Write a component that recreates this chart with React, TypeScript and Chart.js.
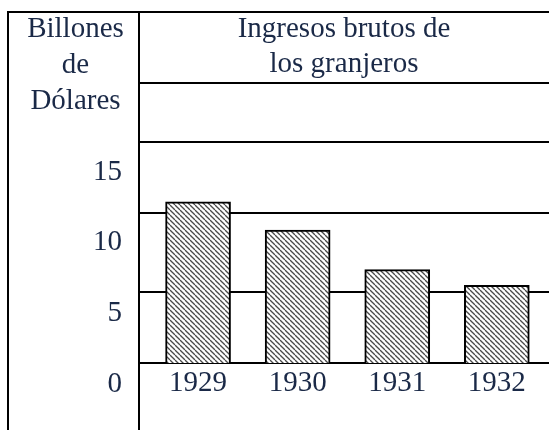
import { useEffect, useRef } from 'react';
import { Chart, registerables } from 'chart.js';

Chart.register(...registerables);

// ---- data ----
const years = ['1929', '1930', '1931', '1932'];
const income = [11.4, 9.4, 6.6, 5.5]; // billones de dólares
const tickValues = [0, 5, 10, 15];
const headerLeft = ['Billones', 'de', 'Dólares'];
const headerRight = ['Ingresos brutos de', 'los granjeros'];
// table row rules, in units of the income scale
const rowRules = [5, 10.6, 15.65, 19.8];

const INK = '#1a2947';
const FONT_FAMILY = '"Liberation Serif", "Times New Roman", serif';
const FONT_SIZE = 29;

function makeHatch(): CanvasPattern {
  const s = 5;
  const c = document.createElement('canvas');
  c.width = s;
  c.height = s;
  const g = c.getContext('2d')!;
  g.fillStyle = '#ffffff';
  g.fillRect(0, 0, s, s);
  g.strokeStyle = '#4a4a4a';
  g.lineWidth = 1.3;
  for (const x0 of [-s, 0, s]) {
    g.beginPath();
    g.moveTo(x0, 0);
    g.lineTo(x0 + s, s);
    g.stroke();
  }
  return g.createPattern(c, 'repeat')!;
}

const framePlugin = {
  id: 'tableFrame',
  afterDraw(chart: any) {
    const { ctx, chartArea } = chart;
    const yl = chart.scales.yLab;
    ctx.save();
    ctx.strokeStyle = '#000';
    ctx.lineWidth = 2;
    ctx.beginPath();
    ctx.moveTo(yl.left, chart.height);
    ctx.lineTo(yl.left, chartArea.top);
    ctx.lineTo(chartArea.right, chartArea.top);
    ctx.stroke();

    ctx.fillStyle = INK;
    ctx.font = `${FONT_SIZE}px ${FONT_FAMILY}`;
    ctx.textAlign = 'center';
    ctx.textBaseline = 'alphabetic';
    const lx = (yl.left + chartArea.left) / 2 + 2;
    const rx = (chartArea.left + chartArea.right) / 2;
    headerLeft.forEach((t, i) => ctx.fillText(t, lx, chartArea.top + 25 + i * 36));
    headerRight.forEach((t, i) => ctx.fillText(t, rx, chartArea.top + 25 + i * 35));
    ctx.restore();
  },
};

export default function App() {
  const ref = useRef<HTMLCanvasElement | null>(null);

  useEffect(() => {
    if (!ref.current) return;
    const chart = new Chart(ref.current, {
      type: 'bar',
      data: {
        datasets: [
          {
            data: years.map((_, i) => ({ x: i, y: income[i] })),
            xAxisID: 'x',
            yAxisID: 'y',
            backgroundColor: makeHatch(),
            borderColor: '#000',
            borderWidth: 2,
            barThickness: 65,
          } as any,
        ],
      },
      options: {
        animation: false,
        responsive: false,
        layout: { padding: { left: 8, top: 12, right: 0, bottom: 0 } },
        plugins: { legend: { display: false }, tooltip: { enabled: false } },
        scales: {
          x: {
            type: 'linear',
            axis: 'x',
            position: { y: 0 } as any,
            min: -0.593,
            max: 3.524,
            offset: false,
            afterBuildTicks: (s: any) => {
              s.ticks = years.map((_, i) => ({ value: i }));
            },
            afterFit: (s: any) => {
              s.paddingLeft = 0;
              s.paddingRight = 0;
            },
            ticks: {
              autoSkip: false,
              maxRotation: 0,
              padding: 3,
              color: INK,
              font: { family: FONT_FAMILY, size: FONT_SIZE },
              callback: (_v: any, i: number) => years[i],
            },
            grid: { display: false, drawTicks: false },
            border: { display: true, color: '#000', width: 2 },
          },
          y: {
            type: 'linear',
            position: 'left',
            min: -4.74,
            max: 24.83,
            afterBuildTicks: (s: any) => {
              s.ticks = rowRules.map((v) => ({ value: v }));
            },
            afterFit: (s: any) => {
              s.width = 0;
              s.paddingTop = 0;
              s.paddingBottom = 0;
            },
            ticks: { display: false },
            grid: { color: '#000', lineWidth: 2, drawTicks: false },
            border: { display: false },
          },
          yLab: {
            type: 'linear',
            position: 'left',
            min: -3.255,
            max: 26.32,
            afterBuildTicks: (s: any) => {
              s.ticks = tickValues.map((v) => ({ value: v }));
            },
            afterFit: (s: any) => {
              s.width = 131;
              s.paddingTop = 0;
              s.paddingBottom = 0;
            },
            ticks: {
              autoSkip: false,
              padding: 17,
              color: INK,
              font: { family: FONT_FAMILY, size: FONT_SIZE },
            },
            grid: { display: false, drawTicks: false },
            border: { display: true, color: '#000', width: 2 },
          },
        },
      } as any,
      plugins: [framePlugin],
    });
    return () => chart.destroy();
  }, []);

  return (
    <div style={{ position: 'absolute', left: 0, top: 0, width: 549, height: 430, background: '#fff' }}>
      <canvas ref={ref} width={549} height={430} />
    </div>
  );
}
